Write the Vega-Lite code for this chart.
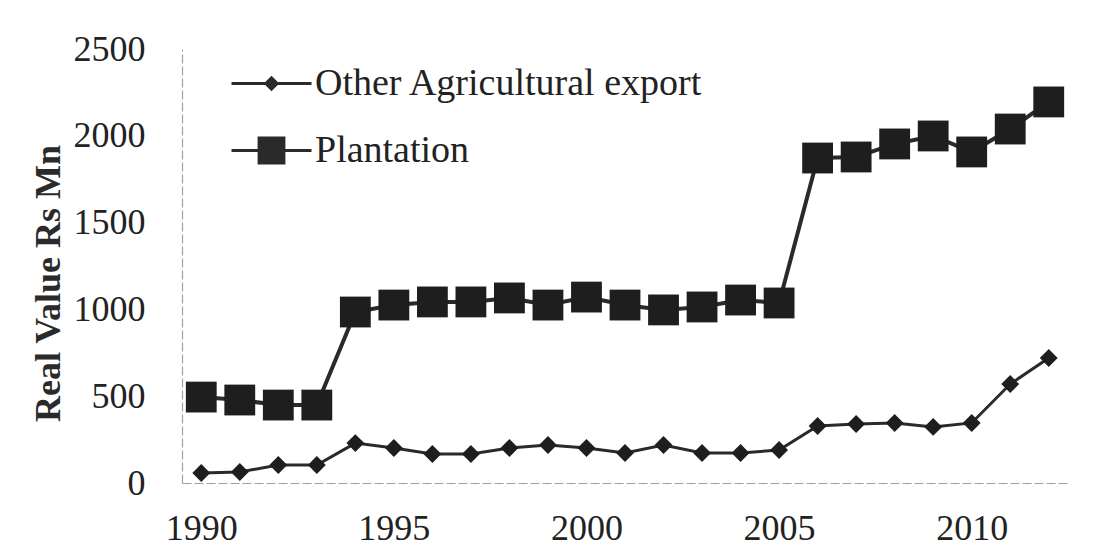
{
  "$schema": "https://vega.github.io/schema/vega-lite/v6.json",
  "autosize": {"type": "none"},
  "width": 886,
  "height": 434,
  "padding": {"left": 182, "top": 49, "right": 31, "bottom": 67},
  "background": "white",
  "config": {
    "view": {"stroke": null},
    "font": "Liberation Serif"
  },
  "data": {
    "values": [
      {"year": 1990, "series": "Plantation", "value": 495},
      {"year": 1991, "series": "Plantation", "value": 478},
      {"year": 1992, "series": "Plantation", "value": 449},
      {"year": 1993, "series": "Plantation", "value": 449},
      {"year": 1994, "series": "Plantation", "value": 985},
      {"year": 1995, "series": "Plantation", "value": 1025},
      {"year": 1996, "series": "Plantation", "value": 1043},
      {"year": 1997, "series": "Plantation", "value": 1043},
      {"year": 1998, "series": "Plantation", "value": 1066},
      {"year": 1999, "series": "Plantation", "value": 1025},
      {"year": 2000, "series": "Plantation", "value": 1071},
      {"year": 2001, "series": "Plantation", "value": 1025},
      {"year": 2002, "series": "Plantation", "value": 997},
      {"year": 2003, "series": "Plantation", "value": 1014},
      {"year": 2004, "series": "Plantation", "value": 1054},
      {"year": 2005, "series": "Plantation", "value": 1037},
      {"year": 2006, "series": "Plantation", "value": 1872},
      {"year": 2007, "series": "Plantation", "value": 1878},
      {"year": 2008, "series": "Plantation", "value": 1953},
      {"year": 2009, "series": "Plantation", "value": 1999},
      {"year": 2010, "series": "Plantation", "value": 1907},
      {"year": 2011, "series": "Plantation", "value": 2039},
      {"year": 2012, "series": "Plantation", "value": 2195},
      {"year": 1990, "series": "Other Agricultural export", "value": 58},
      {"year": 1991, "series": "Other Agricultural export", "value": 63},
      {"year": 1992, "series": "Other Agricultural export", "value": 104},
      {"year": 1993, "series": "Other Agricultural export", "value": 104},
      {"year": 1994, "series": "Other Agricultural export", "value": 230},
      {"year": 1995, "series": "Other Agricultural export", "value": 202},
      {"year": 1996, "series": "Other Agricultural export", "value": 167},
      {"year": 1997, "series": "Other Agricultural export", "value": 167},
      {"year": 1998, "series": "Other Agricultural export", "value": 202},
      {"year": 1999, "series": "Other Agricultural export", "value": 219},
      {"year": 2000, "series": "Other Agricultural export", "value": 202},
      {"year": 2001, "series": "Other Agricultural export", "value": 173},
      {"year": 2002, "series": "Other Agricultural export", "value": 219},
      {"year": 2003, "series": "Other Agricultural export", "value": 173},
      {"year": 2004, "series": "Other Agricultural export", "value": 173},
      {"year": 2005, "series": "Other Agricultural export", "value": 190},
      {"year": 2006, "series": "Other Agricultural export", "value": 328},
      {"year": 2007, "series": "Other Agricultural export", "value": 340},
      {"year": 2008, "series": "Other Agricultural export", "value": 346},
      {"year": 2009, "series": "Other Agricultural export", "value": 323},
      {"year": 2010, "series": "Other Agricultural export", "value": 346},
      {"year": 2011, "series": "Other Agricultural export", "value": 570},
      {"year": 2012, "series": "Other Agricultural export", "value": 720}
    ]
  },
  "encoding": {
    "x": {
      "field": "year",
      "type": "quantitative",
      "scale": {"domain": [1989.5, 2012.5], "nice": false, "zero": false},
      "axis": {
        "title": null,
        "values": [1990, 1995, 2000, 2005, 2010],
        "format": "d",
        "grid": false,
        "ticks": false,
        "domainColor": "#a0a0a0",
        "domainWidth": 1.2,
        "domainDash": [9, 3],
        "labelFont": "Liberation Serif",
        "labelFontSize": 36,
        "labelColor": "#222222",
        "labelPadding": 28
      }
    },
    "y": {
      "field": "value",
      "type": "quantitative",
      "scale": {"domain": [0, 2500], "nice": false},
      "axis": {
        "title": "Real Value Rs Mn",
        "values": [0, 500, 1000, 1500, 2000, 2500],
        "format": "d",
        "grid": false,
        "ticks": false,
        "domainColor": "#a0a0a0",
        "domainWidth": 1.2,
        "domainDash": [9, 3],
        "labelFont": "Liberation Serif",
        "labelFontSize": 36,
        "labelColor": "#222222",
        "labelPadding": 37,
        "titleFont": "Liberation Serif",
        "titleFontSize": 36,
        "titleFontWeight": "bold",
        "titleColor": "#2a2a2a",
        "titleX": -134,
        "titleY": 234,
        "titleAlign": "center",
        "titleBaseline": "middle",
        "titleAngle": -90
      }
    }
  },
  "layer": [
    {
      "mark": {"type": "point", "filled": false, "color": "#2a2a2a", "strokeWidth": 3, "opacity": 1},
      "encoding": {
        "size": {"value": 0},
        "shape": {
          "field": "series",
          "type": "nominal",
          "scale": {
            "domain": ["Other Agricultural export", "Plantation"],
            "range": [
              "M-1,0H1M0,-0.14L0.14,0L0,0.14L-0.14,0ZM-0.05,-0.08H0.05M-0.09,-0.04H0.09M-0.09,0.04H0.09M-0.05,0.08H0.05",
              "M-1,0H1M-0.31,-0.31H0.31V0.31H-0.31ZM-0.31,-0.25H0.31M-0.31,-0.19H0.31M-0.31,-0.13H0.31M-0.31,-0.07H0.31M-0.31,-0.01H0.31M-0.31,0.05H0.31M-0.31,0.11H0.31M-0.31,0.17H0.31M-0.31,0.23H0.31M-0.31,0.28H0.31"
            ]
          },
          "legend": {
            "title": null,
            "orient": "none",
            "legendX": 48,
            "legendY": -7,
            "padding": 0,
            "symbolSize": 6400,
            "symbolStrokeWidth": 3,
            "symbolStrokeColor": "#2a2a2a",
            "rowPadding": 6,
            "labelOffset": 2,
            "labelFont": "Liberation Serif",
            "labelFontSize": 38,
            "labelColor": "#222222",
            "labelLimit": 600
          }
        }
      }
    },
    {
      "mark": {"type": "line", "color": "#2a2a2a"},
      "encoding": {
        "detail": {"field": "series", "type": "nominal"},
        "strokeWidth": {
          "condition": {"test": "datum.series === 'Plantation'", "value": 4},
          "value": 3
        }
      }
    },
    {
      "mark": {"type": "point", "filled": true, "opacity": 1, "color": "#1e1e1e"},
      "encoding": {
        "shape": {
          "condition": {"test": "datum.series === 'Plantation'", "value": "square"},
          "value": "diamond"
        },
        "size": {
          "condition": {"test": "datum.series === 'Plantation'", "value": 950},
          "value": 320
        }
      }
    }
  ]
}
